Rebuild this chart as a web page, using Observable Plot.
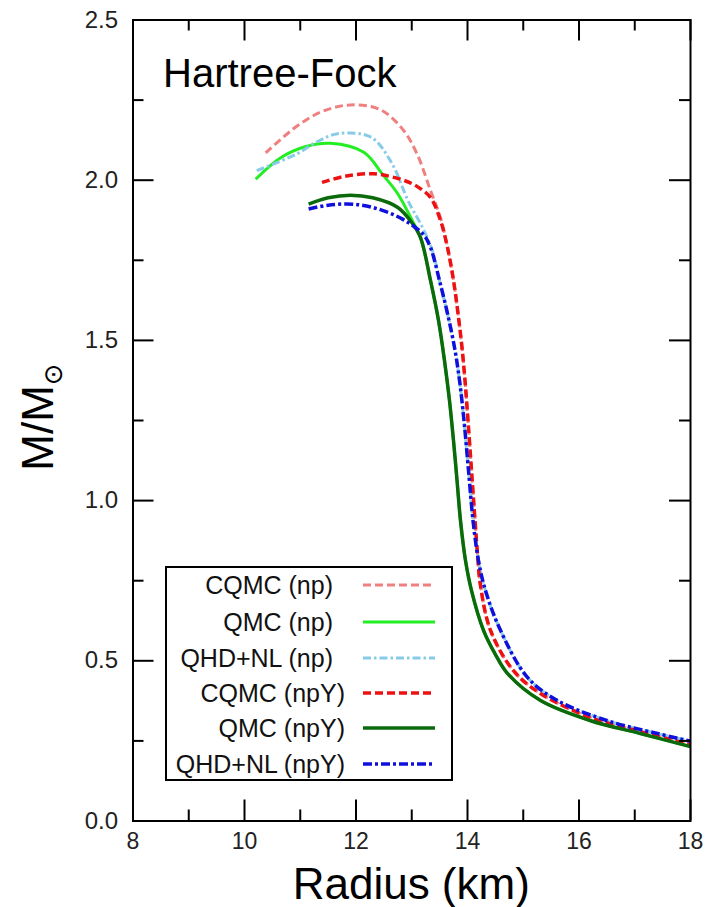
<!DOCTYPE html>
<html><head><meta charset="utf-8">
<script src="https://cdn.jsdelivr.net/npm/d3@7"></script>
<script src="https://cdn.jsdelivr.net/npm/@observablehq/plot@0.6"></script>
<style>body{margin:0;background:#fff;} svg{display:block}</style>
</head><body><div id="chart"></div>
<script>
// ---- data ----
const seriesNames = ["CQMC (np)", "QMC (np)", "QHD+NL (np)", "CQMC (npY)", "QMC (npY)", "QHD+NL (npY)"];

const cqmcNpR = [10.38,10.95,11.4,11.9,12.44,12.85,13.1,13.336,13.52,13.641,13.749,13.83,13.901,13.955,14.009,14.072,14.135,14.179,14.233,14.413,14.825,15.309,16.206,17.1,18.0];
const cqmcNpM = [2.085,2.17,2.215,2.235,2.22,2.156,2.08,1.968,1.88,1.79,1.687,1.584,1.478,1.375,1.25,1.094,0.938,0.835,0.735,0.595,0.469,0.398,0.323,0.279,0.238];

const qmcNpR = [10.2,10.65,11.1,11.54,12.14,12.49,12.74,13.01,13.157,13.336,13.48,13.587,13.677,13.749,13.812,13.874,13.964,14.072,14.287,14.5,14.72,15.31,16.21,17.1,18.0];
const qmcNpM = [2.003,2.07,2.105,2.115,2.087,2.015,1.96,1.874,1.821,1.687,1.562,1.437,1.312,1.187,1.063,0.938,0.813,0.719,0.595,0.52,0.46,0.376,0.313,0.273,0.232];

const qhdNpR = [10.22,10.95,11.3,11.67,12.26,12.62,12.95,13.2,13.38,13.497,13.641,13.767,13.857,13.937,14.018,14.099,14.197,14.323,14.592,15.076,15.614,16.511,17.408,18.0];
const qhdNpM = [2.03,2.083,2.12,2.145,2.135,2.06,1.93,1.85,1.775,1.687,1.584,1.478,1.375,1.25,1.094,0.938,0.813,0.719,0.595,0.448,0.376,0.313,0.273,0.249];

const cqmcNpyR = [11.39,11.8,12.32,12.85,13.1,13.336,13.516,13.641,13.749,13.83,13.901,13.955,14.009,14.072,14.135,14.179,14.233,14.413,14.825,15.309,16.206,17.1,18.0];
const cqmcNpyM = [1.993,2.012,2.02,2.0,1.98,1.946,1.874,1.79,1.687,1.584,1.478,1.375,1.25,1.094,0.938,0.835,0.735,0.595,0.469,0.398,0.323,0.279,0.238];

const qmcNpyR = [11.15,11.5,11.9,12.3,12.75,13.0,13.157,13.336,13.48,13.587,13.677,13.749,13.812,13.874,13.964,14.072,14.287,14.5,14.72,15.31,16.21,17.1,18.0];
const qmcNpyM = [1.925,1.945,1.953,1.945,1.915,1.868,1.821,1.687,1.562,1.437,1.312,1.187,1.063,0.938,0.813,0.719,0.595,0.52,0.46,0.376,0.313,0.273,0.232];

const qhdNpyR = [11.15,11.5,11.96,12.4,12.85,13.21,13.336,13.497,13.641,13.767,13.857,13.937,14.018,14.099,14.197,14.323,14.592,15.076,15.614,16.511,17.408,18.0];
const qhdNpyM = [1.91,1.922,1.925,1.91,1.877,1.83,1.79,1.687,1.584,1.478,1.375,1.25,1.094,0.938,0.813,0.719,0.595,0.448,0.376,0.313,0.273,0.249];

const xMajorTicks = [8,10,12,14,16,18];
const xMinorTicks = [9,11,13,15,17];
const yMajorTicks = [0,0.5,1.0,1.5,2.0,2.5];
const yMinorTicks = [0.25,0.75,1.25,1.75,2.25];

// ---- styles ----
const styles = [
  {stroke:"#f08080", strokeWidth:3,   dash:"8,4"},
  {stroke:"#22ee22", strokeWidth:3,   dash:null},
  {stroke:"#87cbe8", strokeWidth:3,   dash:"8,3,2.5,3"},
  {stroke:"#ee1111", strokeWidth:3.5, dash:"8,4"},
  {stroke:"#0b6a0b", strokeWidth:3.5, dash:null},
  {stroke:"#1010dd", strokeWidth:3.5, dash:"9,3,3,3"}
];
const seriesR = [cqmcNpR, qmcNpR, qhdNpR, cqmcNpyR, qmcNpyR, qhdNpyR];
const seriesM = [cqmcNpM, qmcNpM, qhdNpM, cqmcNpyM, qmcNpyM, qhdNpyM];
const seriesData = seriesNames.map((name, i) => seriesR[i].map((r, j) => ({name, r, m: seriesM[i][j]})));

const W = 711, H = 907, mL = 132.5, mR = 21, mT = 19.5, mB = 86.5;
const innerH = H - mT - mB, innerW = W - mL - mR;
const font = "'Liberation Sans', Arial, Helvetica, sans-serif";

const lineMarks = seriesData.map((d, i) => Plot.line(d, {
  x: "r", y: "m", curve: "catmull-rom", clip: true,
  stroke: styles[i].stroke, strokeWidth: styles[i].strokeWidth,
  strokeDasharray: styles[i].dash, strokeLinecap: "butt"
}));

const major = 21, minor = 11;
const tk = {stroke: "black", strokeWidth: 2};
const svg = Plot.plot({
  width: W, height: H, marginLeft: mL, marginRight: mR, marginTop: mT, marginBottom: mB,
  style: {fontFamily: font, background: "white", color: "black"},
  x: {domain: [8, 18]},
  y: {domain: [0, 2.5]},
  marks: [
    ...lineMarks,
    Plot.tickX(xMajorTicks, {x: d => d, insetTop: innerH - major, ...tk}),
    Plot.tickX(xMajorTicks, {x: d => d, insetBottom: innerH - major, ...tk}),
    Plot.tickX(xMinorTicks, {x: d => d, insetTop: innerH - minor, ...tk}),
    Plot.tickX(xMinorTicks, {x: d => d, insetBottom: innerH - minor, ...tk}),
    Plot.tickY(yMajorTicks, {y: d => d, insetRight: innerW - major, ...tk}),
    Plot.tickY(yMajorTicks, {y: d => d, insetLeft: innerW - major, ...tk}),
    Plot.tickY(yMinorTicks, {y: d => d, insetRight: innerW - minor, ...tk}),
    Plot.tickY(yMinorTicks, {y: d => d, insetLeft: innerW - minor, ...tk}),
    Plot.frame({stroke: "black", strokeWidth: 2}),
    Plot.axisX(xMajorTicks, {tickSize: 0, tickPadding: 12, fontSize: 23, label: null, tickFormat: d => String(d), fill: "#222"}),
    Plot.axisY(yMajorTicks, {tickSize: 0, tickPadding: 15, fontSize: 24, label: null, tickFormat: d3.format(".1f"), fill: "#222"}),
    Plot.text(["Hartree-Fock"], {frameAnchor: "top-left", dx: 30, dy: 39, fontSize: 40, textAnchor: "start", fill: "black"})
  ]
});

const s = d3.select(svg);
// x-axis title
s.append("text").attr("x", mL + innerW / 2).attr("y", 899)
  .attr("text-anchor", "middle").attr("font-family", font).attr("font-size", 44)
  .attr("fill", "black").text("Radius (km)");
// y-axis label M/M_sun
const yl = s.append("text")
  .attr("transform", "translate(53,417) rotate(-90)")
  .attr("text-anchor", "middle")
  .attr("font-family", font).attr("font-size", 44).attr("fill", "black");
yl.append("tspan").text("M/M");
yl.append("tspan").attr("font-size", 26).attr("dy", 9).attr("font-family", "'DejaVu Sans', sans-serif").text("\u2299");

// legend
const lg = s.append("g").attr("font-family", font).attr("font-size", 25);
lg.append("rect").attr("x", 166).attr("y", 567).attr("width", 286).attr("height", 213)
  .attr("fill", "white").attr("stroke", "black").attr("stroke-width", 2);
const rowY = [585, 622, 658, 693, 728, 764];
const textEnd = [333, 333, 333, 345, 345, 345];
seriesNames.forEach((name, i) => {
  lg.append("text").attr("x", textEnd[i]).attr("y", rowY[i]).attr("dy", "0.36em")
    .attr("text-anchor", "end").attr("fill", "#111").text(name);
  lg.append("line").attr("x1", 363).attr("x2", 435).attr("y1", rowY[i]).attr("y2", rowY[i])
    .attr("stroke", styles[i].stroke).attr("stroke-width", styles[i].strokeWidth)
    .attr("stroke-dasharray", styles[i].dash);
});

document.getElementById("chart").appendChild(svg);
</script>
</body></html>
